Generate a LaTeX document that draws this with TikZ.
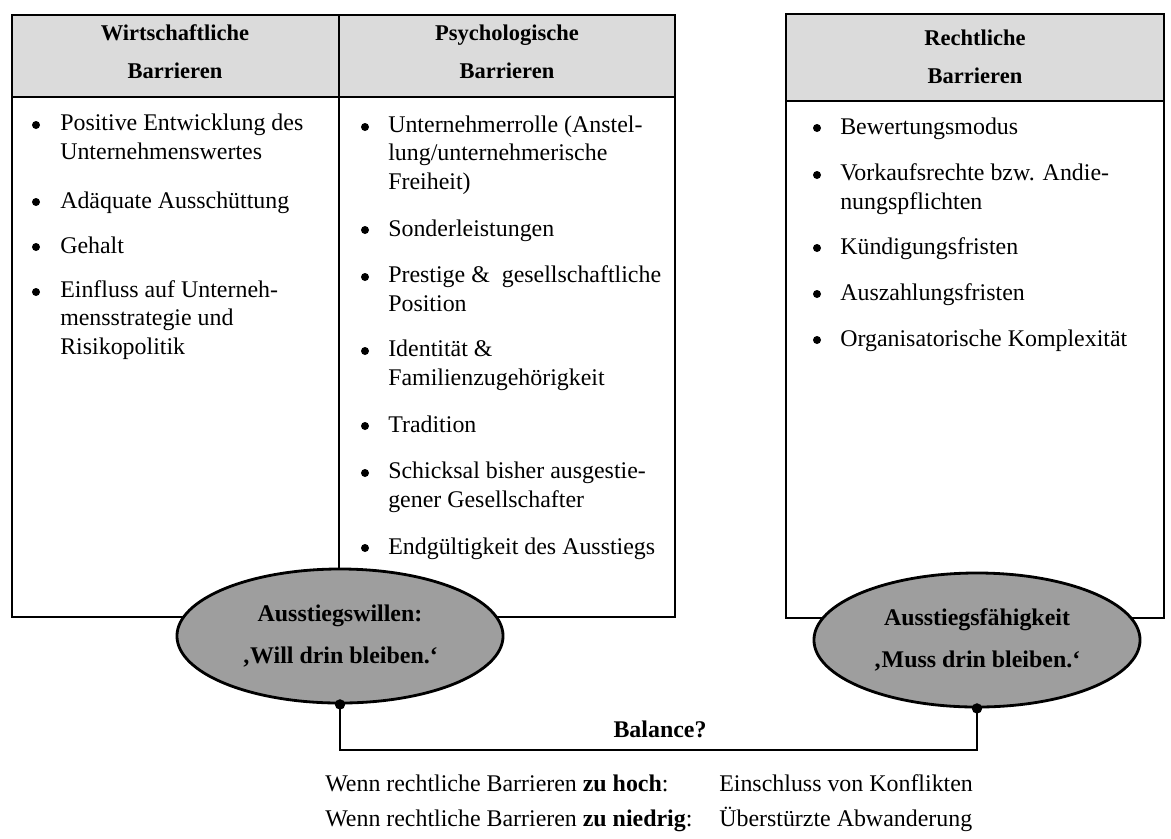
\documentclass[tikz,border=0pt]{standalone}
\usepackage{fontspec}
\setmainfont{Liberation Serif}
\usepackage{tikz}
\usetikzlibrary{positioning}
\usetikzlibrary{shapes.geometric}
\usepackage{xcolor}

\definecolor{hdrgray}{gray}{0.86}
\definecolor{exitgray}{gray}{0.62}

\begin{document}
\begin{tikzpicture}[x=0.025cm, y=-0.025cm,
  item/.style={anchor=base west, align=left, inner sep=0pt, font=\fontsize{17}{20}\selectfont},
  head/.style={align=center, inner sep=0pt, font=\fontsize{16}{27}\selectfont\bfseries},
  exit/.style={ellipse, draw, line width=2pt, fill=exitgray, inner sep=0pt,
    minimum width=8.15cm, minimum height=3.35cm, align=center,
    font=\fontsize{17}{30}\selectfont\bfseries},
  frame/.style={line width=1.2pt}]

\useasboundingbox (0,0) rectangle (1171,838);

% headers
\filldraw[frame, fill=hdrgray] (12,15) rectangle (339,97);
\filldraw[frame, fill=hdrgray] (339,15) rectangle (675,97);
\filldraw[frame, fill=hdrgray] (786,14) rectangle (1164,101);

% boxes
\draw[frame] (12,97) rectangle (339,617);
\draw[frame] (339,97) rectangle (675,617);
\draw[frame] (786,101) rectangle (1164,618);

\node[head] (hw) at (175,52) {Wirtschaftliche\\Barrieren};
\node[head] (hp) at (507,52) {Psychologische\\Barrieren};
\node[head] (hr) at (975,57) {Rechtliche\\Barrieren};

% wirtschaftlich (base = last line)
\node[item] (w1) at (60,159) {Positive Entwicklung des\\Unternehmenswertes};
\node[item] (w2) at (60,208) {Adäquate Ausschüttung};
\node[item] (w3) at (60,253) {Gehalt};
\node[item] (w4) at (60,354) {Einfluss auf Unterneh-\\mensstrategie und\\Risikopolitik};

\fill (36,125) circle (0.1cm);
\fill (36,202) circle (0.1cm);
\fill (36,247) circle (0.1cm);
\fill (36,292) circle (0.1cm);

% psychologisch
\node[item] (p1) at (388,189) {Unternehmerrolle (Anstel-\\lung/unternehmerische\\Freiheit)};
\node[item] (p2) at (388,236) {Sonderleistungen};
\node[item] (p3) at (388,311) {Prestige \&\ \ gesellschaftliche\\Position};
\node[item] (p4) at (388,385) {Identität \&\\Familienzugehörigkeit};
\node[item] (p5) at (388,432) {Tradition};
\node[item] (p6) at (388,507) {Schicksal bisher ausgestie-\\gener Gesellschafter};
\node[item] (p7) at (388,554) {Endgültigkeit des Ausstiegs};

\fill (365,127) circle (0.1cm);
\fill (365,230) circle (0.1cm);
\fill (365,277) circle (0.1cm);
\fill (365,351) circle (0.1cm);
\fill (365,426) circle (0.1cm);
\fill (365,473) circle (0.1cm);
\fill (365,548) circle (0.1cm);

% rechtlich
\node[item] (r1) at (840,134) {Bewertungsmodus};
\node[item] (r2) at (840,209) {Vorkaufsrechte bzw. Andie-\\nungspflichten};
\node[item] (r3) at (840,254) {Kündigungsfristen};
\node[item] (r4) at (840,300) {Auszahlungsfristen};
\node[item] (r5) at (840,346) {Organisatorische Komplexität};

\fill (817,128) circle (0.1cm);
\fill (817,175) circle (0.1cm);
\fill (817,248) circle (0.1cm);
\fill (817,294) circle (0.1cm);
\fill (817,340) circle (0.1cm);

% exit ellipses
\node[exit] (wille) at (340,636) {Ausstiegswillen:\\‚Will drin bleiben.‘};
\node[exit] (faehig) at (977,640) {Ausstiegsfähigkeit\\‚Muss drin bleiben.‘};

% balance
\coordinate (link) at (655,750);
\draw[frame] (wille.south) |- (link) -| (faehig.south);
\fill (wille.south) circle (0.13cm);
\fill (faehig.south) circle (0.13cm);

\node[font=\fontsize{17}{20}\selectfont\bfseries] (bal) at (660,729) {Balance?};

\node[item] (hoch) at (325,791) {Wenn rechtliche Barrieren \textbf{zu hoch}:};
\node[item] (hochr) at (719,791) {Einschluss von Konflikten};
\node[item] (nied) at (325,826) {Wenn rechtliche Barrieren \textbf{zu niedrig}:};
\node[item] (niedr) at (719,826) {Überstürzte Abwanderung};

\end{tikzpicture}
\end{document}
